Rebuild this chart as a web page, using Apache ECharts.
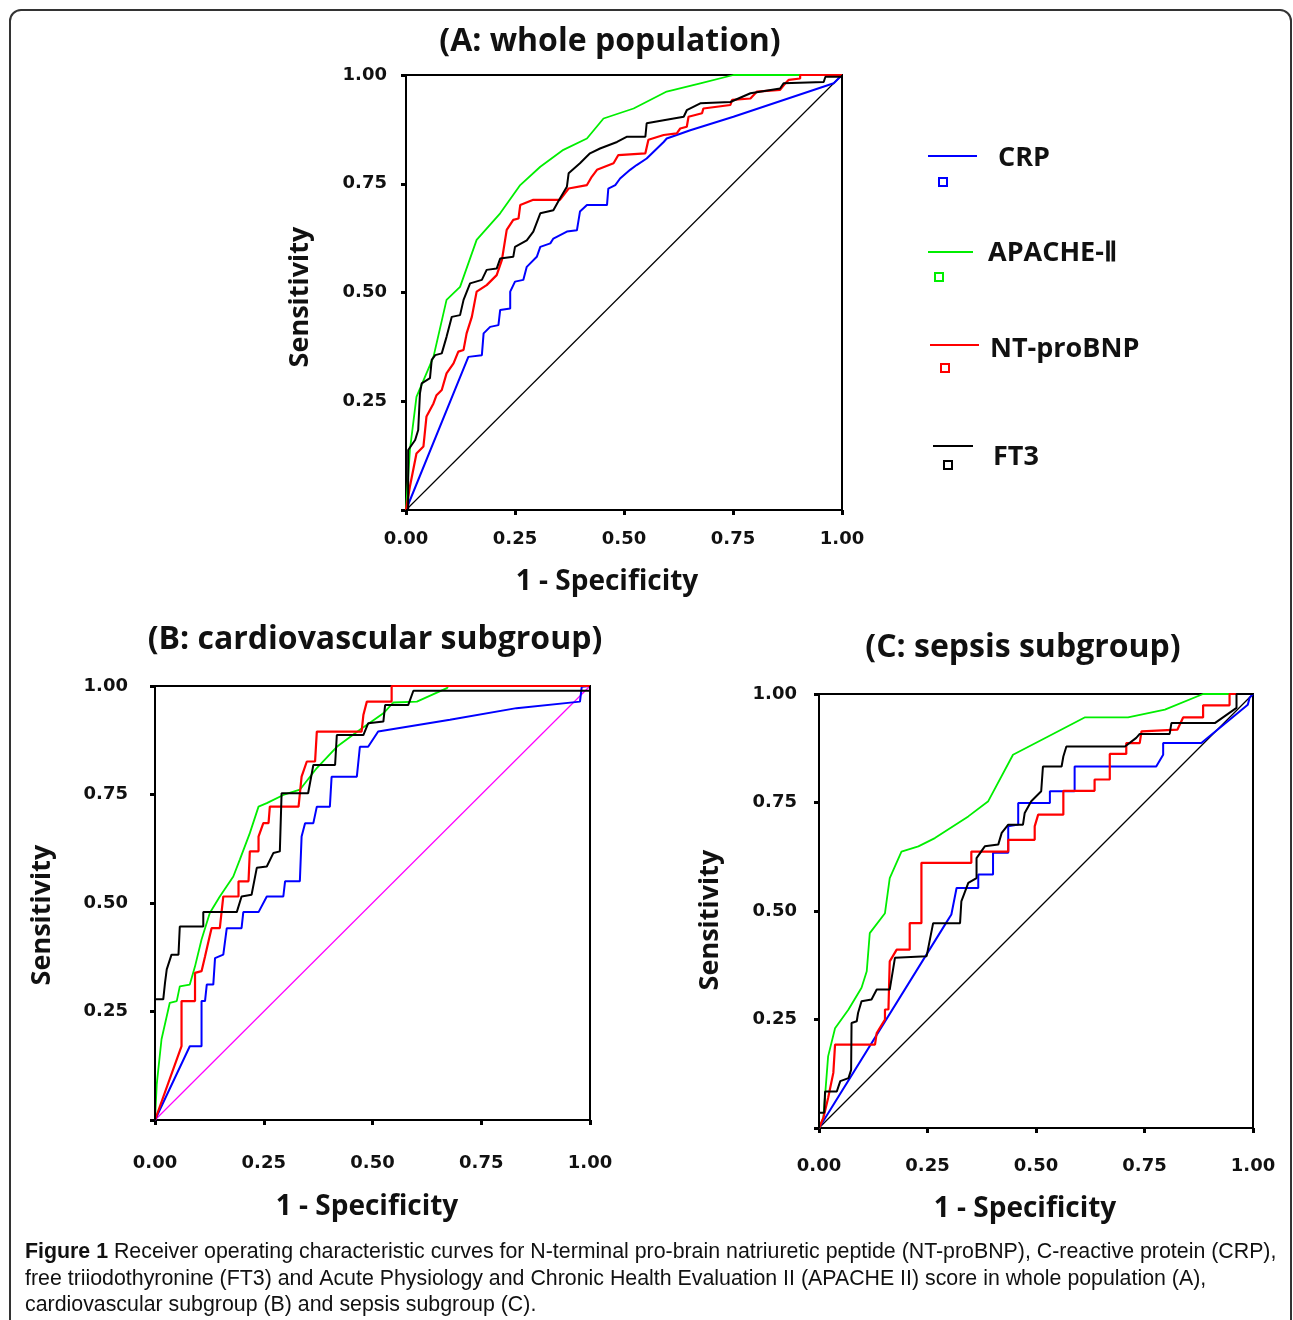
<!DOCTYPE html>
<html>
<head>
<meta charset="utf-8">
<script src="https://cdn.jsdelivr.net/npm/echarts@6/dist/echarts.min.js"></script>
<style>
html,body{margin:0;padding:0;background:#fff;}
#chart{width:1293px;height:1320px;}
</style>
</head>
<body>
<div id="chart"></div>
<script>
// ---------- DATA (1 - specificity, sensitivity) ----------
const panelTitles = ['(A: whole population)', '(B: cardiovascular subgroup)', '(C: sepsis subgroup)'];
const seriesNames = ['CRP', 'APACHE-Ⅱ', 'NT-proBNP', 'FT3'];
const xTickValues = [0, 0.25, 0.5, 0.75, 1];
const yTickValues = [0.25, 0.5, 0.75, 1];

const A_CRP = [[0,0],[0.143,0.352],[0.174,0.356],[0.178,0.406],[0.193,0.421],[0.212,0.425],[0.216,0.460],[0.239,0.463],[0.239,0.502],[0.250,0.525],[0.269,0.529],[0.277,0.559],[0.300,0.582],[0.308,0.605],[0.331,0.613],[0.338,0.624],[0.369,0.640],[0.392,0.643],[0.399,0.686],[0.415,0.701],[0.461,0.701],[0.464,0.739],[0.480,0.747],[0.491,0.762],[0.514,0.782],[0.529,0.793],[0.552,0.808],[0.591,0.846],[0.598,0.854],[0.621,0.862],[0.652,0.873],[0.751,0.904],[0.981,0.981],[1,1]];
const A_APACHE = [[0,0],[0.009,0.138],[0.024,0.26],[0.063,0.352],[0.093,0.483],[0.124,0.513],[0.162,0.621],[0.216,0.682],[0.262,0.747],[0.308,0.789],[0.361,0.828],[0.415,0.854],[0.453,0.9],[0.522,0.923],[0.598,0.962],[0.675,0.981],[0.751,1],[1,1]];
const A_NTPROBNP = [[0,0],[0.009,0.054],[0.024,0.130],[0.040,0.146],[0.047,0.215],[0.063,0.245],[0.070,0.264],[0.082,0.276],[0.093,0.314],[0.109,0.337],[0.120,0.364],[0.132,0.368],[0.139,0.406],[0.151,0.444],[0.162,0.502],[0.185,0.517],[0.208,0.540],[0.220,0.575],[0.231,0.644],[0.246,0.667],[0.258,0.670],[0.262,0.701],[0.292,0.713],[0.353,0.713],[0.373,0.739],[0.415,0.747],[0.426,0.766],[0.438,0.782],[0.476,0.797],[0.487,0.816],[0.549,0.820],[0.556,0.851],[0.591,0.862],[0.621,0.866],[0.629,0.877],[0.644,0.881],[0.648,0.904],[0.679,0.912],[0.682,0.923],[0.744,0.931],[0.748,0.943],[0.790,0.946],[0.805,0.962],[0.858,0.966],[0.870,0.981],[0.878,0.989],[0.904,0.992],[0.904,1],[1,1]];
const A_FT3 = [[0,0],[0.005,0],[0.005,0.138],[0.021,0.161],[0.028,0.184],[0.032,0.268],[0.036,0.291],[0.055,0.303],[0.059,0.345],[0.067,0.356],[0.082,0.360],[0.093,0.398],[0.105,0.444],[0.124,0.448],[0.132,0.483],[0.147,0.521],[0.174,0.529],[0.185,0.552],[0.208,0.555],[0.216,0.578],[0.246,0.582],[0.250,0.605],[0.277,0.620],[0.292,0.640],[0.308,0.682],[0.338,0.689],[0.353,0.716],[0.369,0.743],[0.373,0.774],[0.399,0.797],[0.422,0.820],[0.445,0.831],[0.484,0.846],[0.506,0.858],[0.549,0.858],[0.552,0.889],[0.591,0.896],[0.637,0.904],[0.644,0.919],[0.675,0.935],[0.744,0.938],[0.790,0.958],[0.858,0.969],[0.866,0.981],[0.958,0.984],[0.962,0.996],[1,0.996],[1,1]];

const B_CRP = [[0,0],[0.080,0.170],[0.107,0.170],[0.107,0.274],[0.115,0.274],[0.119,0.312],[0.134,0.312],[0.138,0.373],[0.157,0.381],[0.165,0.442],[0.199,0.442],[0.203,0.479],[0.238,0.479],[0.257,0.515],[0.295,0.515],[0.299,0.550],[0.333,0.550],[0.337,0.653],[0.345,0.684],[0.364,0.684],[0.372,0.722],[0.402,0.722],[0.406,0.791],[0.464,0.791],[0.471,0.860],[0.490,0.860],[0.513,0.895],[0.678,0.922],[0.831,0.949],[0.977,0.964],[0.981,0.998],[1,1]];
const B_APACHE = [[0,0],[0.004,0.082],[0.015,0.186],[0.034,0.270],[0.050,0.274],[0.057,0.308],[0.080,0.312],[0.092,0.354],[0.107,0.416],[0.126,0.477],[0.149,0.515],[0.180,0.561],[0.195,0.600],[0.218,0.661],[0.238,0.722],[0.257,0.730],[0.295,0.749],[0.333,0.761],[0.372,0.811],[0.418,0.860],[0.471,0.899],[0.525,0.937],[0.548,0.962],[0.602,0.964],[0.671,0.995],[0.674,1],[1,1]];
const B_NTPROBNP = [[0,0],[0.061,0.170],[0.061,0.274],[0.092,0.274],[0.092,0.339],[0.107,0.343],[0.115,0.377],[0.123,0.412],[0.130,0.442],[0.149,0.442],[0.157,0.515],[0.192,0.515],[0.192,0.550],[0.215,0.550],[0.218,0.619],[0.238,0.619],[0.238,0.653],[0.249,0.684],[0.261,0.684],[0.264,0.722],[0.330,0.722],[0.337,0.791],[0.349,0.826],[0.368,0.826],[0.372,0.895],[0.475,0.895],[0.479,0.933],[0.487,0.964],[0.544,0.964],[0.544,1],[1,1]];
const B_FT3 = [[0,0],[0,0.278],[0.019,0.278],[0.023,0.316],[0.027,0.347],[0.038,0.381],[0.054,0.381],[0.057,0.446],[0.111,0.446],[0.111,0.479],[0.188,0.479],[0.199,0.515],[0.222,0.519],[0.234,0.581],[0.257,0.584],[0.272,0.615],[0.287,0.619],[0.291,0.753],[0.352,0.753],[0.364,0.818],[0.414,0.818],[0.418,0.887],[0.479,0.887],[0.490,0.914],[0.525,0.918],[0.529,0.956],[0.582,0.956],[0.594,0.989],[1,0.989],[1,1]];

const C_CRP = [[0,0],[0.290,0.468],[0.305,0.492],[0.317,0.553],[0.367,0.553],[0.367,0.584],[0.401,0.584],[0.401,0.634],[0.436,0.634],[0.436,0.695],[0.459,0.699],[0.459,0.749],[0.532,0.749],[0.532,0.776],[0.589,0.776],[0.589,0.833],[0.777,0.833],[0.793,0.860],[0.793,0.887],[0.881,0.887],[0.988,0.975],[0.992,0.991],[1,1]];
const C_APACHE = [[0,0],[0.010,0.023],[0.021,0.165],[0.037,0.230],[0.068,0.273],[0.098,0.323],[0.110,0.361],[0.117,0.449],[0.152,0.495],[0.163,0.576],[0.190,0.637],[0.229,0.649],[0.267,0.668],[0.344,0.718],[0.390,0.753],[0.447,0.860],[0.528,0.902],[0.612,0.946],[0.712,0.946],[0.797,0.964],[0.885,1],[1,1]];
const C_NTPROBNP = [[0,0],[0.010,0.023],[0.021,0.069],[0.033,0.127],[0.037,0.192],[0.129,0.192],[0.133,0.219],[0.152,0.250],[0.152,0.273],[0.160,0.273],[0.163,0.384],[0.179,0.411],[0.209,0.411],[0.209,0.472],[0.236,0.472],[0.236,0.611],[0.351,0.611],[0.351,0.637],[0.436,0.637],[0.436,0.664],[0.497,0.664],[0.497,0.695],[0.505,0.722],[0.563,0.722],[0.563,0.777],[0.635,0.777],[0.635,0.803],[0.670,0.803],[0.670,0.862],[0.708,0.862],[0.708,0.887],[0.739,0.887],[0.743,0.914],[0.826,0.918],[0.839,0.946],[0.885,0.946],[0.885,0.974],[0.946,0.974],[0.946,1],[1,1]];
const C_FT3 = [[0,0],[0,0.035],[0.012,0.035],[0.014,0.084],[0.041,0.084],[0.049,0.108],[0.052,0.111],[0.068,0.115],[0.074,0.134],[0.075,0.242],[0.087,0.246],[0.090,0.265],[0.098,0.292],[0.121,0.296],[0.133,0.319],[0.163,0.319],[0.175,0.392],[0.248,0.396],[0.263,0.472],[0.325,0.472],[0.328,0.522],[0.344,0.565],[0.363,0.576],[0.363,0.622],[0.382,0.649],[0.413,0.653],[0.421,0.680],[0.436,0.699],[0.470,0.699],[0.474,0.726],[0.489,0.753],[0.512,0.776],[0.516,0.833],[0.559,0.833],[0.563,0.856],[0.570,0.879],[0.705,0.879],[0.731,0.899],[0.739,0.908],[0.808,0.908],[0.812,0.933],[0.912,0.933],[0.962,0.968],[0.962,1],[1,1]];

const REFERENCE = [[0,0],[1,1]];

const captionLines = [
  ['Figure 1', ' Receiver operating characteristic curves for N-terminal pro-brain natriuretic peptide (NT-proBNP), C-reactive protein (CRP),'],
  ['', 'free triiodothyronine (FT3) and Acute Physiology and Chronic Health Evaluation II (APACHE II) score in whole population (A),'],
  ['', 'cardiovascular subgroup (B) and sepsis subgroup (C).']
];

// ---------- STYLE / LAYOUT ----------
const colors = {CRP:'#0000ff', APACHE:'#00ee00', NT:'#ff0000', FT3:'#000000'};
const grids = [
  {left:406, top:75, width:436, height:435},
  {left:155, top:686, width:435, height:434},
  {left:819, top:694, width:434, height:434}
];
const xLabelMargin = [20, 34, 29];
const yLabelMargin = [19, 27, 22];
const diagColors = ['#000000', '#ff00ff', '#000000'];
const panels = [
  {crp:A_CRP, apache:A_APACHE, nt:A_NTPROBNP, ft3:A_FT3},
  {crp:B_CRP, apache:B_APACHE, nt:B_NTPROBNP, ft3:B_FT3},
  {crp:C_CRP, apache:C_APACHE, nt:C_NTPROBNP, ft3:C_FT3}
];
const titlePos = [[610,42],[375,640],[1023,648]];
const sensPos = [[300,297],[42,915],[710,920]];
const specPos = [[607,582],[367,1207],[1025,1209]];

const tickFont = {fontFamily:'DejaVu Sans', fontWeight:'bold', fontSize:18, color:'#111'};
const fmt = v => xTickValues.indexOf(v) >= 0 ? v.toFixed(2) : '';

const xAxes = [], yAxes = [], series = [];
grids.forEach((g, i) => {
  xAxes.push({
    gridIndex:i, type:'value', min:0, max:1, interval:0.25,
    axisLine:{show:true, lineStyle:{color:'#000', width:2}},
    axisTick:{show:true, length:5, lineStyle:{color:'#000', width:3}},
    splitLine:{show:false},
    axisLabel:Object.assign({margin:xLabelMargin[i], formatter:fmt}, tickFont)
  });
  yAxes.push({
    gridIndex:i, type:'value', min:0, max:1, interval:0.25,
    axisLine:{show:true, lineStyle:{color:'#000', width:2}},
    axisTick:{show:true, length:5, lineStyle:{color:'#000', width:3}},
    splitLine:{show:false},
    axisLabel:Object.assign({margin:yLabelMargin[i], formatter: v => yTickValues.indexOf(v) >= 0 ? v.toFixed(2) : ''}, tickFont)
  });
  const p = panels[i];
  const mk = (name, data, color, w, z) => ({
    name, type:'line', xAxisIndex:i, yAxisIndex:i, data, showSymbol:false, symbol:'none',
    lineStyle:{color, width:w}, z, animation:false, silent:true
  });
  series.push(mk('ref', REFERENCE, diagColors[i], 1.2, 2));
  series.push(mk(seriesNames[0], p.crp, colors.CRP, 2, 3));
  series.push(mk(seriesNames[1], p.apache, colors.APACHE, 1.8, 4));
  series.push(mk(seriesNames[2], p.nt, colors.NT, 2.2, 5));
  series.push(mk(seriesNames[3], p.ft3, colors.FT3, 2, 6));
});

const graphics = [];
graphics.push({type:'rect', shape:{x:10, y:10, width:1281, height:1360, r:11}, style:{fill:'none', stroke:'#333', lineWidth:2}, z:0});
const txt = (x, y, text, font, extra) => Object.assign({
  type:'text', x, y,
  style:Object.assign({text, fill:'#111', align:'center', verticalAlign:'middle', textAlign:'center', textVerticalAlign:'middle'}, font)
}, extra || {});
const titleFont = {fontFamily:'Open Sans', fontWeight:'bold', fontSize:32};
const sensFont = {fontFamily:'Open Sans', fontWeight:'bold', fontSize:27};
const specFont = {fontFamily:'Open Sans', fontWeight:'bold', fontSize:28};
panelTitles.forEach((t, i) => {
  graphics.push(txt(titlePos[i][0], titlePos[i][1], t, titleFont));
  graphics.push(txt(sensPos[i][0], sensPos[i][1], 'Sensitivity', sensFont, {rotation:Math.PI/2}));
  graphics.push(txt(specPos[i][0], specPos[i][1], '1 - Specificity', specFont));
});

// legend
const legendItems = [
  {name:seriesNames[0], color:colors.CRP, x1:928, x2:977, y:156, sx:943, sy:182, tx:998, ty:158},
  {name:seriesNames[1], color:colors.APACHE, x1:928, x2:973, y:252, sx:939, sy:277, tx:988, ty:253},
  {name:seriesNames[2], color:colors.NT, x1:930, x2:979, y:345, sx:945, sy:368, tx:990, ty:349},
  {name:seriesNames[3], color:colors.FT3, x1:933, x2:973, y:446, sx:948, sy:465, tx:993, ty:457}
];
legendItems.forEach(it => {
  graphics.push({type:'line', shape:{x1:it.x1, y1:it.y, x2:it.x2, y2:it.y}, style:{stroke:it.color, lineWidth:2}});
  graphics.push({type:'rect', shape:{x:it.sx-4, y:it.sy-4, width:8, height:8}, style:{fill:'none', stroke:it.color, lineWidth:2}});
  graphics.push({type:'text', x:it.tx, y:it.ty, style:{text:it.name, fill:'#111', fontFamily:'Open Sans', fontWeight:'bold', fontSize:27, align:'left', verticalAlign:'middle', textAlign:'left', textVerticalAlign:'middle'}});
});

// caption: font size chosen so the first line spans the caption width
const capFamily = '"Liberation Sans", Arial, sans-serif';
const measureCtx = document.createElement('canvas').getContext('2d');
measureCtx.font = 'bold 20px ' + capFamily;
let w1 = measureCtx.measureText(captionLines[0][0]).width;
measureCtx.font = '20px ' + capFamily;
w1 += measureCtx.measureText(captionLines[0][1]).width;
const capSize = Math.max(16, Math.min(22, 20 * 1252 / w1));
const capY = [1252, 1279, 1305];
captionLines.forEach((ln, i) => {
  graphics.push({type:'text', x:25, y:capY[i], style:{
    text: (ln[0] ? '{b|' + ln[0] + '}' : '') + '{r|' + ln[1] + '}',
    align:'left', verticalAlign:'middle', textAlign:'left', textVerticalAlign:'middle',
    rich:{
      b:{fontFamily:capFamily, fontWeight:'bold', fontSize:capSize, fill:'#111', color:'#111'},
      r:{fontFamily:capFamily, fontSize:capSize, fill:'#111', color:'#111'}
    }
  }});
});

const chart = echarts.init(document.getElementById('chart'), null, {renderer:'canvas'});
chart.setOption({
  animation:false,
  backgroundColor:'#fff',
  grid: grids.map(g => Object.assign({show:true, borderColor:'#000', borderWidth:2, backgroundColor:'transparent'}, g)),
  xAxis: xAxes,
  yAxis: yAxes,
  series,
  graphic: graphics
});
</script>
</body>
</html>
